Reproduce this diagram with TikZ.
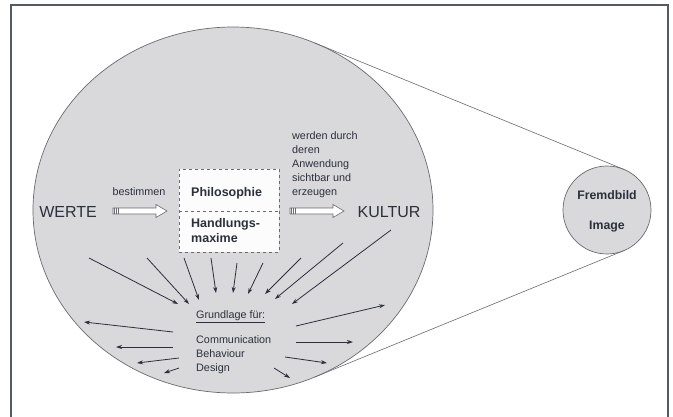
\documentclass[tikz,border=0pt]{standalone}
\usepackage{fontspec}
\setmainfont{Liberation Sans}
\usetikzlibrary{shapes.geometric,arrows.meta}
\definecolor{ink}{HTML}{2B303C}
\definecolor{shade}{HTML}{D9D9DC}
\definecolor{edge}{HTML}{6A6A70}
\begin{document}
\begin{tikzpicture}[x=1pt,y=-1pt,
  txt/.style={text=ink,inner sep=0pt,font=\fontsize{10.8}{14}\selectfont},
  bigtxt/.style={text=ink,inner sep=0pt,font=\fontsize{16}{18}\selectfont},
  boldtxt/.style={text=ink,inner sep=0pt,font=\fontsize{12.5}{15}\selectfont\bfseries},
  arr/.style={draw=ink,line width=0.8pt,-{Stealth[length=6pt,width=4pt]}},
  blockarr/.style={draw=edge,fill=white,line width=0.6pt},
  tang/.style={draw=edge,line width=0.6pt}]
\useasboundingbox (0,0) rectangle (673,416);
% frame
\draw[draw=ink!80,line width=1.4pt] (11,418) -- (11,5) -- (668,5) -- (668,418);
% tangent lines
\coordinate (t1a) at (314.6,42.9);
\coordinate (t1b) at (623.6,169.3);
\coordinate (t2a) at (314.6,377.1);
\coordinate (t2b) at (623.6,250.7);
% shapes
\node[ellipse,draw=edge,fill=shade,line width=0.7pt,minimum width=400pt,minimum height=366pt,inner sep=0pt] (big) at (233,210) {};
\node[circle,draw=edge,fill=shade,line width=0.7pt,minimum size=88pt,inner sep=0pt] (small) at (607,210) {};
\draw[tang] (t1a) -- (t1b);
\draw[tang] (t2a) -- (t2b);
% box
\node[draw=edge,dashed,fill=white!93!shade,line width=0.6pt,minimum width=100pt,minimum height=83pt,inner sep=0pt] (box) at (229,210.5) {};
\coordinate (dl) at (179,211);
\coordinate (dr) at (279,211);
\draw[draw=edge,dashed,line width=0.6pt] (dl) -- (dr);
\node[boldtxt,anchor=west] (phil) at (191,193) {Philosophie};
\node[boldtxt,anchor=north west,align=left] (hand) at (191,218) {Handlungs-\\maxime};
% texts
\node[bigtxt] (werte) at (68,212) {WERTE};
\node[bigtxt] (kultur) at (389,212) {KULTUR};
\node[txt] (best) at (139,192) {bestimmen};
\node[txt,anchor=north west,align=left] (werden) at (292,131) {werden durch\\deren\\Anwendung\\sichtbar und\\erzeugen};
\node[txt,anchor=west] (grund) at (196,317) {\underline{Grundlage für:}};
\node[txt,anchor=north west,align=left] (comm) at (196,335) {Communication\\Behaviour\\Design};
\node[boldtxt,font=\fontsize{12.3}{15}\selectfont\bfseries] (fremd) at (607,195) {Fremdbild};
\node[boldtxt,font=\fontsize{12.3}{15}\selectfont\bfseries] (image) at (607,227) {Image};
% block arrows
\foreach \x in {113,290}{
  \draw[blockarr] (\x,208) -- (\x+43,208) -- (\x+43,204.5) -- (\x+54,211) -- (\x+43,217.5) -- (\x+43,214) -- (\x,214) -- cycle;
  \foreach \d in {1.5,3.5,5.5}{\draw[draw=edge,line width=0.4pt] (\x+\d,208) -- (\x+\d,214);}
}
% converging arrows
\foreach \ax/\ay/\bx/\by [count=\i] in {89/258/178/304, 147/258/189/304, 184/258/199/300, 211/258/216/293, 237/263/233/293, 263/263/248/294, 301/258/265/294, 343/243/275/299, 391/230/292/304}{
  \coordinate (in\i s) at (\ax,\ay); \coordinate (in\i e) at (\bx,\by);
  \draw[arr] (in\i s) -- (in\i e);
}
% diverging arrows
\foreach \ax/\ay/\bx/\by [count=\i] in {173/332/84/322, 173/347/116/347, 179/358/137/363, 179/368/164/373, 296/326/385/305, 296/342/353/342, 285/357/327/363, 274/368/290/378}{
  \coordinate (out\i s) at (\ax,\ay); \coordinate (out\i e) at (\bx,\by);
  \draw[arr] (out\i s) -- (out\i e);
}
\end{tikzpicture}
\end{document}
